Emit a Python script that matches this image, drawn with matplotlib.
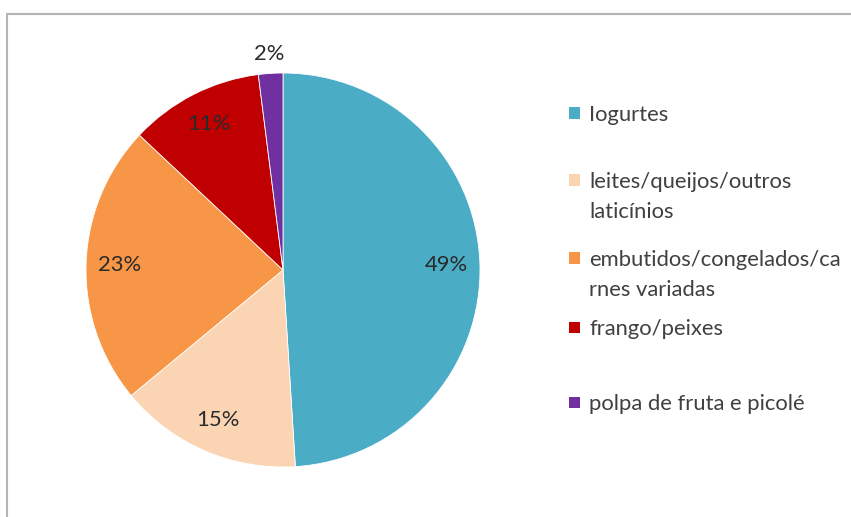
import matplotlib
matplotlib.use("Agg")
from matplotlib import pyplot as plt
from matplotlib.patches import Rectangle
import numpy as np

# data
labels = ['Iogurtes', 'leites/queijos/outros\nlaticínios',
          'embutidos/congelados/ca\nrnes variadas', 'frango/peixes',
          'polpa de fruta e picolé']
values = [49, 15, 23, 11, 2]
colors = ['#4BACC6', '#FBD4B4', '#F79646', '#C00000', '#7030A0']

plt.rcParams['font.family'] = ['Lato', 'DejaVu Sans']

pixelw, pixelh, dpi = 851, 517, 100
fig = plt.figure(figsize=(pixelw/dpi, pixelh/dpi), dpi=dpi)

# pie centre / radius in pixels
cx, cy, r = 283, 270, 197
ax = fig.add_axes([(cx - r)/pixelw, (pixelh - cy - r)/pixelh, 2*r/pixelw, 2*r/pixelh])

wedges, texts, autotexts = ax.pie(values, colors=colors, startangle=90, counterclock=False,
                                  autopct='%d%%', pctdistance=0.83,
                                  wedgeprops=dict(edgecolor='white', linewidth=0.6),
                                  textprops=dict(fontsize=15.8, color='#2A2A2A'))
ax.set_xlim(-1, 1)
ax.set_ylim(-1, 1)
ax.set_aspect('equal')
ax.axis('off')
for w in wedges:
    w.set_clip_on(False)

# small slice label goes outside
w = wedges[-1]
mid = np.deg2rad((w.theta1 + w.theta2) / 2)
autotexts[-1].set_position((1.1*np.cos(mid), 1.1*np.sin(mid)))
for t in autotexts:
    t.set_clip_on(False)

# legend, Excel style (square next to first line)
leg_y = [113, 180, 258, 327, 402]
line_h = 30
for lab, col, yy in zip(labels, colors, leg_y):
    fig.patches.append(Rectangle((569/pixelw, (pixelh - yy - 5.5)/pixelh), 11/pixelw, 11/pixelh,
                                 transform=fig.transFigure, facecolor=col, edgecolor='none'))
    for i, line in enumerate(lab.split('\n')):
        fig.text(589/pixelw, (pixelh - yy - i*line_h)/pixelh, line, ha='left',
                 va='center_baseline', fontsize=15.8, color='#404040',
                 transform=fig.transFigure)

# chart frame
fig.patches.append(Rectangle((7/pixelw, -0.1), 1.2, (pixelh - 14)/pixelh + 0.1,
                             transform=fig.transFigure, fill=False, edgecolor='#B4B4B4',
                             linewidth=1.5, clip_on=False))

fig.savefig('out.png', dpi=dpi)
